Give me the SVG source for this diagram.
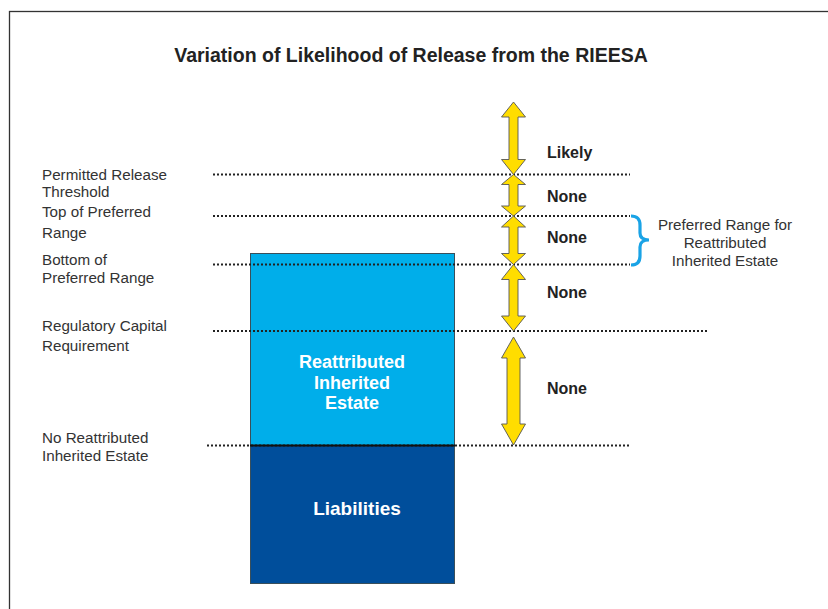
<svg xmlns="http://www.w3.org/2000/svg" width="828" height="609" viewBox="0 0 828 609">
<style>
.lbl{font-family:"Liberation Sans",Arial,sans-serif;font-size:15.2px;fill:#333}
.lvl{font-family:"Liberation Sans",Arial,sans-serif;font-size:16px;font-weight:bold;fill:#222}
.box{font-family:"Liberation Sans",Arial,sans-serif;font-weight:bold;fill:#fff;text-anchor:middle}
.dot{stroke:#222;stroke-width:2;stroke-dasharray:2 2;fill:none}
.arr{fill:#FFDD00;stroke:#555;stroke-width:0.9;stroke-linejoin:miter}
</style>
<rect x="9.5" y="11.5" width="830" height="610" fill="#fff" stroke="#333" stroke-width="1.3"/>
<text x="411" y="62" text-anchor="middle" font-family="Liberation Sans, Arial, sans-serif" font-size="19.5" font-weight="bold" fill="#222">Variation of Likelihood of Release from the RIEESA</text>

<g id="estate">
<rect x="250.5" y="253.5" width="204" height="192" fill="#00AEEA" stroke="#3a4f5a" stroke-width="1"/>
<text class="box" font-size="18"><tspan x="352" y="368">Reattributed</tspan><tspan x="352" y="389">Inherited</tspan><tspan x="352" y="409">Estate</tspan></text>
</g>
<g id="liabilities">
<rect x="250.5" y="445.5" width="204" height="138" fill="#004E9B" stroke="#3a4f5a" stroke-width="1"/>
<text class="box" font-size="19" x="357" y="515">Liabilities</text>
</g>

<g id="connectors">
<line class="dot" x1="213" y1="174.5" x2="630" y2="174.5"/>
<line class="dot" x1="213" y1="216" x2="630" y2="216"/>
<line class="dot" x1="213" y1="264.5" x2="630" y2="264.5"/>
<line class="dot" x1="213" y1="331" x2="707" y2="331"/>
<line class="dot" x1="207" y1="445.5" x2="630" y2="445.5"/>
<line x1="250" y1="445.5" x2="455" y2="445.5" stroke="#111" stroke-width="2.2"/>
<polygon class="arr" points="513.5,102 525.5,117 518,117 518,159.5 525.5,159.5 513.5,174.5 501.5,159.5 509,159.5 509,117 501.5,117"/>
<polygon class="arr" points="513.5,174.5 525.5,184.5 518,184.5 518,206 525.5,206 513.5,216 501.5,206 509,206 509,184.5 501.5,184.5"/>
<polygon class="arr" points="513.5,216 525.5,227 518,227 518,253.5 525.5,253.5 513.5,264.5 501.5,253.5 509,253.5 509,227 501.5,227"/>
<polygon class="arr" points="513.5,264.5 525.5,279.5 518,279.5 518,316 525.5,316 513.5,331 501.5,316 509,316 509,279.5 501.5,279.5"/>
<polygon class="arr" points="513.5,337 525.5,358 520,358 520,424 525.5,424 513.5,445 501.5,424 507,424 507,358 501.5,358"/>
<path d="M631,216 Q640,216 640,225 L640,233 Q640,240 649,240 Q640,240 640,247 L640,256 Q640,265 631,265" fill="none" stroke="#1AA3E6" stroke-width="3.2"/>
</g>

<g id="labels-left">
<text class="lbl"><tspan x="42" y="180">Permitted Release</tspan><tspan x="42" y="197">Threshold</tspan></text>
<text class="lbl"><tspan x="42" y="217">Top of Preferred</tspan><tspan x="42" y="238">Range</tspan></text>
<text class="lbl"><tspan x="42" y="265">Bottom of</tspan><tspan x="42" y="283">Preferred Range</tspan></text>
<text class="lbl"><tspan x="42" y="330.5">Regulatory Capital</tspan><tspan x="42" y="350.5">Requirement</tspan></text>
<text class="lbl"><tspan x="42" y="442.5">No Reattributed</tspan><tspan x="42" y="460.5">Inherited Estate</tspan></text>
</g>

<g id="labels-likelihood">
<text class="lvl" x="547" y="158">Likely</text>
<text class="lvl" x="547" y="202">None</text>
<text class="lvl" x="547" y="243">None</text>
<text class="lvl" x="547" y="297.5">None</text>
<text class="lvl" x="547" y="393.5">None</text>
</g>

<g id="preferred-range">
<text class="lbl" text-anchor="middle"><tspan x="725" y="230">Preferred Range for</tspan><tspan x="725" y="247.5">Reattributed</tspan><tspan x="725" y="265.5">Inherited Estate</tspan></text>
</g>
</svg>
